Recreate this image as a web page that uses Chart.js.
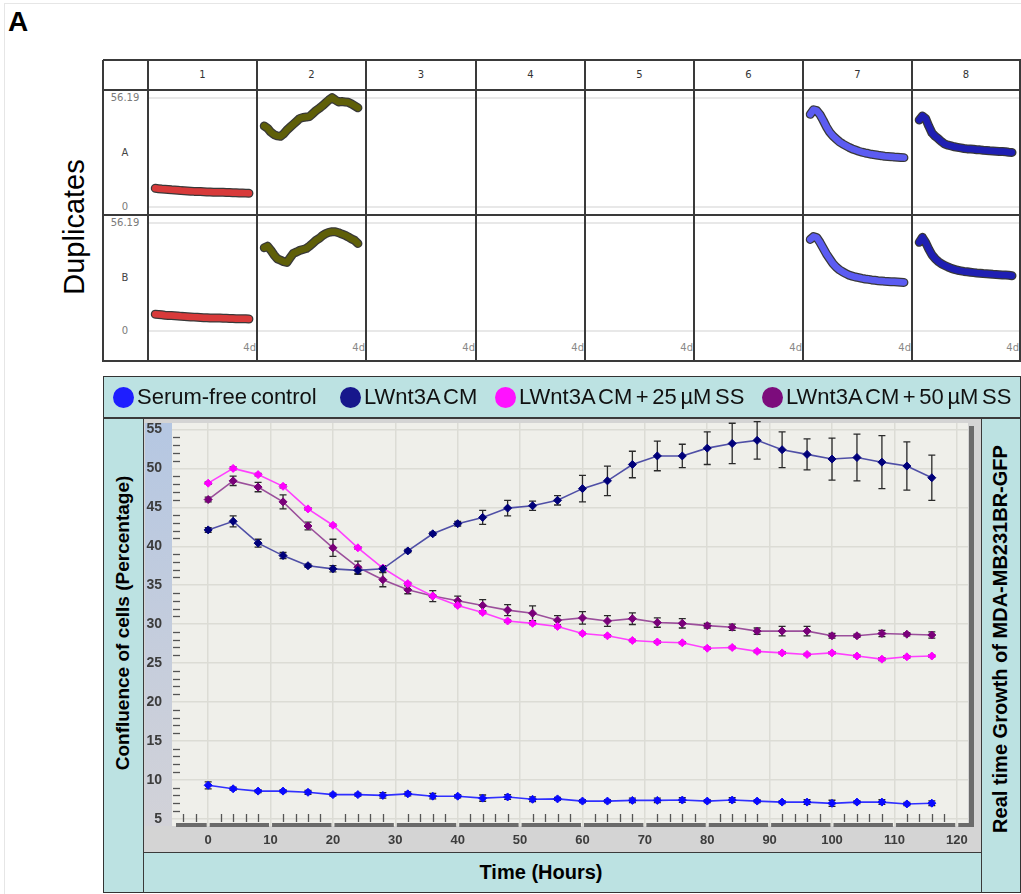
<!DOCTYPE html>
<html>
<head>
<meta charset="utf-8">
<script src="https://cdn.jsdelivr.net/npm/chart.js@4.4.1/dist/chart.umd.min.js"></script>
<style>
  body { margin: 0; width: 1021px; height: 894px; position: relative; overflow: hidden; background: #fff;
         font-family: "Liberation Sans", Arial, sans-serif; }
  .abs { position: absolute; }
  .lbl { position: absolute; white-space: nowrap; }
  .vline { position: absolute; width: 1.5px; background: #3a3a3a; z-index: 5; }
  .hline { position: absolute; height: 1.5px; background: #3a3a3a; z-index: 5; }
  .small { font-family: "DejaVu Sans", sans-serif; font-size: 10px; }
  canvas { position: absolute; }
</style>
</head>
<body>
<div class="abs" style="left:4px;top:3px;width:1030px;height:900px;border-left:1px solid #e6e6e6;border-top:1px solid #e6e6e6"></div>
<div class="lbl" style="left:8px;top:8px;font-size:28px;font-weight:bold;line-height:28px">A</div>

<div id="wells"></div>

<!-- main chart frame -->
<div class="abs" style="left:103px;top:376px;width:916px;height:515px;background:#bce2e2;border:1.5px solid #333"></div>
<div class="hline" style="left:103px;top:417px;width:918px"></div>
<div class="vline" style="left:142.5px;top:417px;height:476px"></div>
<div class="vline" style="left:980.5px;top:417px;height:476px"></div>
<div class="hline" style="left:143px;top:851.5px;width:838px"></div>
<div id="legend"></div>
<canvas id="main" width="838" height="434" style="left:143px;top:418px"></canvas>
<div class="lbl" style="left:-77px;top:611px;width:400px;text-align:center;font-size:19px;font-weight:bold;line-height:24px;transform:rotate(-90deg)">Confluence of cells (Percentage)</div>
<div class="lbl" style="left:800px;top:627px;width:400px;text-align:center;font-size:20px;font-weight:bold;line-height:24px;transform:rotate(-90deg)">Real time Growth of MDA-MB231BR-GFP</div>
<div class="lbl" style="left:391px;top:860px;width:300px;text-align:center;font-size:20px;font-weight:bold;line-height:24px">Time (Hours)</div>
<div class="lbl" style="left:-26px;top:210px;width:200px;text-align:center;font-size:29px;line-height:34px;transform:rotate(-90deg)">Duplicates</div>

<script>
// ---- data ----
const hours = [0, 4, 8, 12, 16, 20, 24, 28, 32, 36, 40, 44, 48, 52, 56, 60, 64, 68, 72, 76, 80, 84, 88, 92, 96, 100, 104, 108, 112, 116];

const seriesNames = ['Serum-free control', 'LWnt3A CM', 'LWnt3A CM + 25 \u00b5M SS', 'LWnt3A CM + 50 \u00b5M SS'];
const legendColors = ['#1e1eff', '#17178c', '#ff12ff', '#7c0c7c'];

const serumFree = [9.3, 8.85, 8.55, 8.55, 8.4, 8.1, 8.1, 8.0, 8.2, 7.9, 7.9, 7.65, 7.8, 7.5, 7.55, 7.27, 7.27, 7.36, 7.36, 7.4, 7.27, 7.4, 7.27, 7.14, 7.14, 6.98, 7.14, 7.14, 6.9, 7.0];
const serumFreeErr = [0.45, 0.2, 0.2, 0.2, 0.25, 0.2, 0.2, 0.35, 0.25, 0.35, 0.2, 0.4, 0.3, 0.3, 0.2, 0.2, 0.2, 0.3, 0.3, 0.3, 0.2, 0.3, 0.2, 0.2, 0.3, 0.4, 0.2, 0.3, 0.2, 0.3];

const lwnt3a = [42.1, 43.2, 40.4, 38.8, 37.5, 37.1, 36.9, 37.1, 39.4, 41.6, 42.9, 43.7, 44.9, 45.2, 45.9, 47.4, 48.4, 50.5, 51.6, 51.6, 52.6, 53.2, 53.6, 52.4, 51.8, 51.2, 51.4, 50.8, 50.3, 48.8];
const lwnt3aErr = [0.3, 0.7, 0.5, 0.4, 0.2, 0.4, 0.5, 0.4, 0.2, 0.2, 0.3, 0.9, 1.0, 0.6, 0.6, 1.7, 1.9, 1.7, 1.9, 1.5, 2.1, 2.6, 2.4, 2.3, 2.0, 2.7, 3.0, 3.4, 3.1, 2.9];

const ss25 = [48.1, 50.0, 49.2, 47.7, 44.8, 42.7, 39.8, 37.2, 35.2, 33.6, 32.4, 31.5, 30.4, 30.1, 29.7, 28.8, 28.5, 27.9, 27.7, 27.6, 26.9, 27.0, 26.5, 26.3, 26.1, 26.3, 25.9, 25.5, 25.8, 25.9];
const ss25Err = [0.15, 0.2, 0.15, 0.2, 0.15, 0.15, 0.15, 0.15, 0.15, 0.15, 0.15, 0.15, 0.15, 0.15, 0.15, 0.15, 0.15, 0.15, 0.15, 0.15, 0.15, 0.15, 0.15, 0.15, 0.15, 0.15, 0.15, 0.2, 0.15, 0.15];

const ss50 = [46.0, 48.4, 47.6, 45.7, 42.6, 39.8, 37.3, 35.7, 34.4, 33.6, 33.0, 32.4, 31.8, 31.4, 30.5, 30.8, 30.4, 30.7, 30.2, 30.1, 29.8, 29.6, 29.1, 29.1, 29.1, 28.5, 28.5, 28.8, 28.7, 28.6];
const ss50Err = [0.3, 0.6, 0.6, 0.9, 0.5, 1.1, 0.8, 0.9, 0.5, 0.7, 0.6, 0.75, 0.7, 0.95, 0.6, 0.8, 0.7, 0.75, 0.6, 0.6, 0.3, 0.4, 0.4, 0.6, 0.6, 0.3, 0.2, 0.4, 0.2, 0.4];

const yTicks = [5, 10, 15, 20, 25, 30, 35, 40, 45, 50, 55];
const xTicks = [0, 10, 20, 30, 40, 50, 60, 70, 80, 90, 100, 110, 120];

// plate overview (wells 1..8, duplicates A/B), y range 0..56.19, x = same hours
const wellColumns = ['1', '2', '3', '4', '5', '6', '7', '8'];
const wellRows = ['A', 'B'];
const wellMax = 56.19;
const well1A = [9.5, 9.3, 9.1, 9.0, 8.9, 8.7, 8.6, 8.5, 8.3, 8.2, 8.1, 8.0, 7.9, 7.9, 7.8, 7.7, 7.6, 7.6, 7.5, 7.5, 7.4, 7.4, 7.3, 7.3, 7.2, 7.2, 7.1, 7.1, 7.0, 6.9];
const well1B = [8.7, 8.6, 8.4, 8.2, 8.1, 8.0, 7.9, 7.8, 7.6, 7.5, 7.4, 7.3, 7.2, 7.1, 7.0, 6.9, 6.9, 6.8, 6.8, 6.7, 6.7, 6.6, 6.6, 6.5, 6.5, 6.4, 6.4, 6.3, 6.3, 6.2];
const well2A = [41.6, 40.5, 38.5, 37.2, 36.5, 36.3, 37.5, 39.5, 41.0, 42.5, 44.0, 45.5, 46.0, 46.2, 46.5, 48.0, 49.5, 50.7, 52.0, 53.5, 55.0, 56.2, 55.0, 54.0, 54.2, 54.0, 53.8, 53.0, 52.0, 51.0];
const well2B = [43.2, 44.0, 42.0, 39.5, 37.5, 36.8, 36.0, 35.6, 38.0, 40.3, 41.0, 41.8, 42.3, 42.8, 44.0, 45.5, 47.0, 48.0, 49.5, 50.5, 51.2, 51.5, 51.5, 51.0, 50.3, 49.7, 48.8, 47.8, 47.0, 45.4];
const well7A = [47.6, 50.0, 49.5, 47.5, 44.5, 41.2, 38.5, 36.5, 35.0, 33.5, 32.4, 31.5, 30.6, 29.8, 29.2, 28.6, 28.1, 27.7, 27.4, 27.0, 26.8, 26.5, 26.3, 26.0, 25.9, 25.8, 25.6, 25.5, 25.4, 25.3];
const well7B = [47.5, 49.0, 48.5, 46.0, 43.0, 40.0, 37.5, 35.0, 33.2, 31.8, 30.7, 29.8, 29.0, 28.5, 28.0, 27.7, 27.3, 27.0, 26.8, 26.5, 26.3, 26.1, 26.0, 25.8, 25.7, 25.6, 25.5, 25.4, 25.3, 25.2];
const well8A = [44.7, 46.8, 45.5, 41.5, 38.0, 36.3, 35.0, 33.5, 32.3, 31.7, 31.3, 30.9, 30.6, 30.3, 30.0, 29.8, 29.7, 29.6, 29.4, 29.3, 29.1, 29.0, 28.8, 28.7, 28.6, 28.5, 28.4, 28.3, 28.1, 28.0];
const well8B = [46.0, 48.6, 46.0, 42.5, 39.5, 37.5, 36.0, 34.8, 34.0, 33.2, 32.5, 32.0, 31.5, 31.2, 30.9, 30.7, 30.5, 30.3, 30.1, 30.0, 29.8, 29.7, 29.6, 29.4, 29.3, 29.2, 29.1, 29.0, 28.9, 28.7];
const wellTraces = {
  '1A': [well1A, '#d83a3a'], '1B': [well1B, '#d83a3a'],
  '2A': [well2A, '#5f5f08'], '2B': [well2B, '#5f5f08'],
  '7A': [well7A, '#5c5cf2'], '7B': [well7B, '#5c5cf2'],
  '8A': [well8A, '#1f1fb3'], '8B': [well8B, '#1f1fb3'],
};

Chart.defaults.font.family = '"Liberation Sans", Arial, sans-serif';
Chart.defaults.animation = false;

const toXY = arr => hours.map((h, i) => ({ x: h, y: arr[i] }));

// ---- plate overview grid ----
const colEdges = [103, 148, 257, 366, 476, 585, 694, 803, 912, 1020];
const rowEdges = [60, 90, 215, 361];
const wells = document.getElementById('wells');

function addLabel(text, left, top, width, align, style) {
  const d = document.createElement('div');
  d.className = 'lbl small';
  d.textContent = text;
  d.style.cssText += `left:${left}px;top:${top}px;width:${width}px;text-align:${align};line-height:12px;${style || ''}`;
  wells.appendChild(d);
}

colEdges.forEach(x => {
  const l = document.createElement('div');
  l.className = 'vline';
  l.style.cssText += `left:${x - 0.75}px;top:${rowEdges[0]}px;height:${rowEdges[3] - rowEdges[0] + 1}px`;
  wells.appendChild(l);
});
rowEdges.forEach(y => {
  const l = document.createElement('div');
  l.className = 'hline';
  l.style.cssText += `left:${colEdges[0]}px;top:${y - 0.75}px;width:${colEdges[9] - colEdges[0] + 1}px`;
  wells.appendChild(l);
});

wellColumns.forEach((c, i) => {
  const cx = (colEdges[i + 1] + colEdges[i + 2]) / 2;
  addLabel(c, cx - 20, 69, 40, 'center', 'color:#333');
});
// row headers
[[98, 153, 207], [223, 278, 331]].forEach((ys, r) => {
  addLabel(String(wellMax), 105, ys[0] - 6, 40, 'center', 'color:#7a7a7a');
  addLabel(wellRows[r], 105, ys[1] - 6, 40, 'center', 'color:#444');
  addLabel('0', 105, ys[2] - 6, 40, 'center', 'color:#7a7a7a');
});
wellColumns.forEach((c, i) => addLabel('4d', colEdges[i + 2] - 41, 342, 40, 'right', 'color:#888'));

wellColumns.forEach((c, i) => {
  wellRows.forEach((r, j) => {
    const left = colEdges[i + 1], top = rowEdges[j + 1];
    const w = colEdges[i + 2] - left, h = rowEdges[j + 2] - top;
    const cv = document.createElement('canvas');
    cv.width = w; cv.height = h;
    cv.style.left = left + 'px'; cv.style.top = top + 'px';
    wells.appendChild(cv);
    const trace = wellTraces[c + r];
    const datasets = trace ? [
      { data: toXY(trace[0]), borderColor: trace[1], borderWidth: 6.5, pointRadius: 0, borderCapStyle: 'round', borderJoinStyle: 'round', clip: false },
      { data: toXY(trace[0]), borderColor: '#383838', borderWidth: 9, pointRadius: 0, borderCapStyle: 'round', borderJoinStyle: 'round', clip: false },
    ] : [];
    new Chart(cv, {
      type: 'line',
      data: { datasets },
      options: {
        responsive: false,
        events: [],
        layout: { padding: { top: 7.7, bottom: j === 0 ? 8.3 : 30, left: 0, right: 0 } },
        plugins: { legend: { display: false }, tooltip: { enabled: false } },
        scales: {
          x: { type: 'linear', min: -9, max: 126, display: false },
          y: {
            min: 0, max: wellMax,
            afterBuildTicks: s => { s.ticks = [{ value: 0 }, { value: wellMax }]; },
            afterFit: s => { s.width = 0; s.paddingTop = 0; s.paddingBottom = 0; },
            ticks: { display: false },
            grid: { color: '#e8e8e8', lineWidth: 2, drawTicks: false },
            border: { display: false },
          },
        },
      },
    });
  });
});

// ---- legend ----
const legend = document.getElementById('legend');
const legendLefts = [113, 340, 495, 762];
seriesNames.forEach((name, i) => {
  const dot = document.createElement('div');
  dot.className = 'abs';
  dot.style.cssText = `left:${legendLefts[i]}px;top:387px;width:21px;height:21px;border-radius:50%;background:${legendColors[i]};z-index:6`;
  legend.appendChild(dot);
  const t = document.createElement('div');
  t.className = 'lbl';
  t.textContent = name;
  t.style.cssText = `left:${legendLefts[i] + 24}px;top:384px;font-size:22px;line-height:26px;word-spacing:-2.5px;color:#111;z-index:6`;
  legend.appendChild(t);
});

// ---- main chart ----
const errorBars = {
  id: 'errorBars',
  beforeDatasetsDraw(chart) {
    const { ctx, scales: { x, y } } = chart;
    ctx.save();
    ctx.strokeStyle = '#2a2a2a';
    ctx.lineWidth = 1.3;
    chart.data.datasets.forEach(ds => {
      ds.data.forEach((p, j) => {
        const e = ds.errors[j];
        const px = x.getPixelForValue(p.x);
        const y1 = y.getPixelForValue(p.y + e), y2 = y.getPixelForValue(p.y - e);
        ctx.beginPath();
        ctx.moveTo(px, y1); ctx.lineTo(px, y2);
        ctx.moveTo(px - 3.5, y1); ctx.lineTo(px + 3.5, y1);
        ctx.moveTo(px - 3.5, y2); ctx.lineTo(px + 3.5, y2);
        ctx.stroke();
      });
    });
    ctx.restore();
  },
};

const plotFrame = {
  id: 'plotFrame',
  beforeDraw(chart) {
    const { ctx, chartArea: a, width, height } = chart;
    ctx.save();
    ctx.fillStyle = '#d4d4d4';
    ctx.fillRect(0, 0, width, height);
    const g = ctx.createLinearGradient(0, a.top, 0, a.bottom);
    g.addColorStop(0, '#b5c7e2');
    g.addColorStop(1, '#d2d2d8');
    ctx.fillStyle = g;
    ctx.fillRect(2, a.top, a.left - 2, a.bottom - a.top);
    ctx.fillStyle = '#efefea';
    ctx.fillRect(a.left, a.top, a.right - a.left, a.bottom - a.top);
    ctx.restore();
  },
  beforeDatasetsDraw(chart) {
    const { ctx, chartArea: a, scales: { x, y } } = chart;
    ctx.save();
    ctx.strokeStyle = '#555';
    ctx.lineWidth = 1.3;
    // minor y ticks
    for (let v = 5; v <= 55; v++) {
      if (v % 5 === 0) continue;
      const py = Math.round(y.getPixelForValue(v)) + 0.5;
      ctx.beginPath(); ctx.moveTo(a.left + 1, py); ctx.lineTo(a.left + 8, py); ctx.stroke();
    }
    // minor x ticks
    for (let h = -4; h <= 120; h += 2) {
      if (h % 10 === 0) continue;
      const px = Math.round(x.getPixelForValue(h)) + 0.5;
      ctx.beginPath(); ctx.moveTo(px, a.bottom - 12); ctx.lineTo(px, a.bottom - 4); ctx.stroke();
    }
    // bottom axis bar, broken at major ticks
    ctx.fillStyle = '#6b6b6b';
    let start = a.left + 4;
    xTicks.forEach(t => {
      const px = x.getPixelForValue(t);
      ctx.fillRect(start, a.bottom - 3, px - 1.5 - start, 4);
      start = px + 1.5;
    });
    ctx.fillRect(start, a.bottom - 3, a.right + 6 - start, 4);
    // right bevel
    ctx.fillRect(a.right + 1, a.top + 3, 5, a.bottom - a.top - 2);
    ctx.restore();
  },
};

function series(values, errors, point, line) {
  return {
    data: toXY(values), errors,
    borderColor: line, borderWidth: 1.6,
    pointStyle: 'rectRot', pointRadius: 4,
    pointBackgroundColor: point, pointBorderColor: point, pointBorderWidth: 1,
    tension: 0,
  };
}

new Chart(document.getElementById('main'), {
  type: 'line',
  data: {
    datasets: [
      series(serumFree, serumFreeErr, '#0a0aff', '#3030ff'),
      series(lwnt3a, lwnt3aErr, '#00007a', '#4f4fa6'),
      series(ss25, ss25Err, '#ff00ff', '#ff40ff'),
      series(ss50, ss50Err, '#7a007a', '#9b4f9b'),
    ],
  },
  options: {
    responsive: false,
    events: [],
    layout: { padding: { top: 2, right: 13, left: 0, bottom: 0 } },
    plugins: { legend: { display: false }, tooltip: { enabled: false } },
    scales: {
      x: {
        type: 'linear', min: -5.8, max: 121.8,
        afterBuildTicks: s => { s.ticks = xTicks.map(v => ({ value: v })); },
        afterFit: s => { s.height = 26; s.paddingLeft = 0; s.paddingRight = 0; },
        ticks: { color: '#3c3c3c', font: { size: 13, weight: 'bold' }, padding: 7, maxRotation: 0 },
        grid: { color: '#dcdcd5', lineWidth: 1.5, drawTicks: false },
        border: { display: false },
      },
      y: {
        min: 4.07, max: 55.83,
        afterBuildTicks: s => { s.ticks = yTicks.map(v => ({ value: v })); },
        afterFit: s => { s.width = 29; s.paddingTop = 0; s.paddingBottom = 0; },
        ticks: { color: '#3c3c3c', font: { size: 14, weight: 'bold' }, padding: 10 },
        grid: { color: '#dcdcd5', lineWidth: 1.5, drawTicks: false },
        border: { display: false },
      },
    },
  },
  plugins: [plotFrame, errorBars],
});
</script>
</body>
</html>
